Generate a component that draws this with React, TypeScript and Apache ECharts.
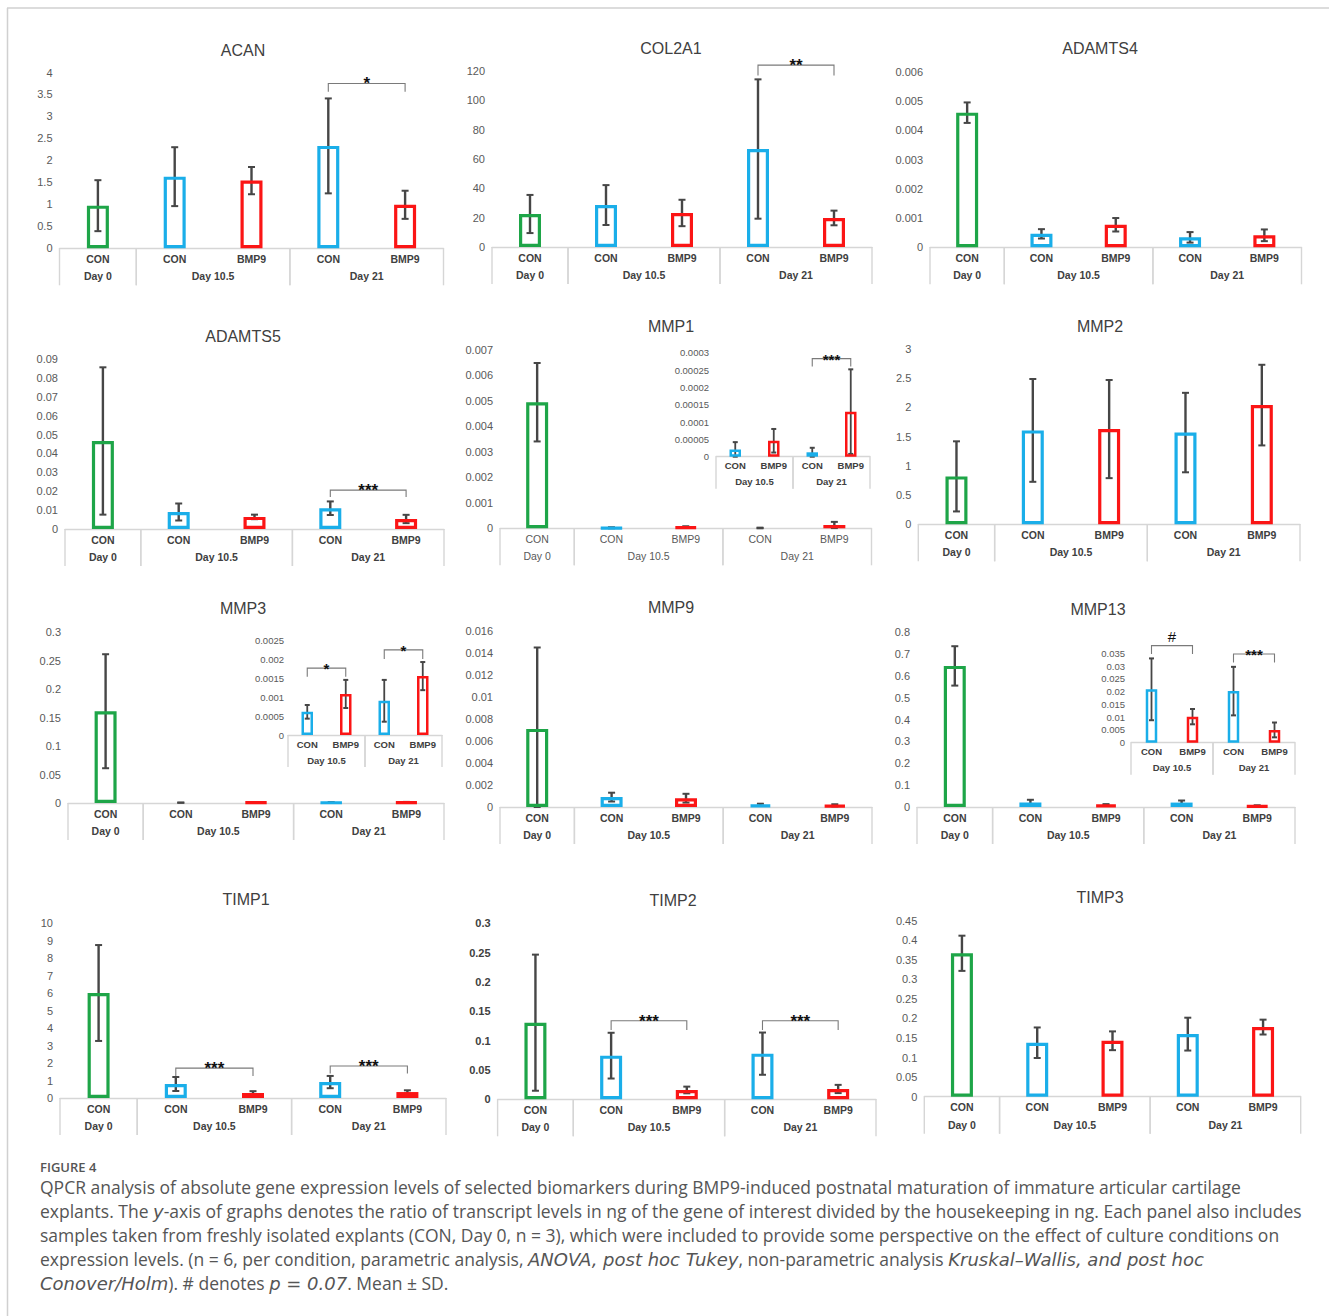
import React, { useEffect, useRef } from 'react';
import * as echarts from 'echarts';

const FONT = '"Liberation Sans", Arial, Helvetica, sans-serif';
const CAPTION_FONT = '"Open Sans", Lato, sans-serif';
const CAPTION_ITALIC_FONT = '"DejaVu Sans", "Open Sans", sans-serif';
const GREEN = '#1ea548';
const BLUE = '#1aaee9';
const RED = '#fb1515';

// ---- categories ----
const mainCategories = ['CON', 'CON', 'BMP9', 'CON', 'BMP9'];
const insetCategories = ['CON', 'BMP9', 'CON', 'BMP9'];
const mainGroups = ['Day 0', 'Day 10.5', 'Day 21'];
const insetGroups = ['Day 10.5', 'Day 21'];
const mainGroupSpans = [[0, 0], [1, 2], [3, 4]];
const insetGroupSpans = [[0, 1], [2, 3]];
const mainColors = [GREEN, BLUE, RED, BLUE, RED];
const insetColors = [BLUE, RED, BLUE, RED];

// ---- values (mean, SD), y-axis [max, interval], significance [from, to, bracketTop, legEnd, label] ----
const acanMean = [0.97, 1.63, 1.54, 2.33, 0.99];
const acanSD = [0.58, 0.67, 0.31, 1.08, 0.32];
const acanAxis = [4, 0.5];
const acanSig = [[3, 4, 3.75, 3.56, '*']];

const col2a1Mean = [22.5, 28.6, 23.2, 66.8, 19.8];
const col2a1SD = [13, 13.6, 9, 47.5, 5];
const col2a1Axis = [120, 20];
const col2a1Sig = [[3, 4, 124, 117, '**']];

const adamts4Mean = [0.0046, 0.00046, 0.00077, 0.00034, 0.00041];
const adamts4SD = [0.00035, 0.00016, 0.00023, 0.00018, 0.0002];
const adamts4Axis = [0.006, 0.001];
const adamts4Sig = [];

const adamts5Mean = [0.0466, 0.009, 0.0064, 0.011, 0.0053];
const adamts5SD = [0.039, 0.0045, 0.0012, 0.0036, 0.0022];
const adamts5Axis = [0.09, 0.01];
const adamts5Sig = [[3, 4, 0.0206, 0.017, '***']];

const mmp1Mean = [0.00495, 0.000021, 0.000046, 0.0000127, 0.00013];
const mmp1SD = [0.00154, 0.000021, 0.000034, 0.000013, 0.000122];
const mmp1Axis = [0.007, 0.001];
const mmp1Sig = [];
const mmp1InsetAxis = [0.0003, 0.00005];
const mmp1InsetSig = [[2, 3, 0.000283, 0.00026, '***']];

const mmp2Mean = [0.82, 1.607, 1.63, 1.57, 2.04];
const mmp2SD = [0.6, 0.88, 0.84, 0.68, 0.69];
const mmp2Axis = [3, 0.5];
const mmp2Sig = [];

const mmp3Mean = [0.161, 0.00061, 0.00108, 0.0009, 0.00155];
const mmp3SD = [0.1, 0.00018, 0.00037, 0.00055, 0.00037];
const mmp3Axis = [0.3, 0.05];
const mmp3Sig = [];
const mmp3InsetAxis = [0.0025, 0.0005];
const mmp3InsetSig = [[0, 1, 0.00176, 0.00153, '*'], [2, 3, 0.00224, 0.002, '*']];

const mmp9Mean = [0.0071, 0.0009, 0.0008, 0.0002, 0.00015];
const mmp9SD = [0.0074, 0.0004, 0.0004, 0.0001, 0.0001];
const mmp9Axis = [0.016, 0.002];
const mmp9Sig = [];

const mmp13Mean = [0.645, 0.0209, 0.0102, 0.0202, 0.005];
const mmp13SD = [0.09, 0.0121, 0.003, 0.0095, 0.0029];
const mmp13Axis = [0.8, 0.1];
const mmp13Sig = [];
const mmp13InsetAxis = [0.035, 0.005];
const mmp13InsetSig = [[0, 1, 0.038, 0.0347, '#'], [2, 3, 0.0347, 0.0314, '***']];

const timp1Mean = [6.0, 0.8, 0.29, 0.91, 0.34];
const timp1SD = [2.74, 0.4, 0.1, 0.35, 0.1];
const timp1Axis = [10, 1];
const timp1Sig = [[1, 2, 1.71, 1.26, '***'], [3, 4, 1.83, 1.4, '***']];

const timp2Mean = [0.1306, 0.0744, 0.0159, 0.0778, 0.0176];
const timp2SD = [0.116, 0.039, 0.0057, 0.036, 0.007];
const timp2Axis = [0.3, 0.05];
const timp2Sig = [[1, 2, 0.134, 0.118, '***'], [3, 4, 0.134, 0.118, '***']];

const timp3Mean = [0.3667, 0.138, 0.143, 0.16, 0.178];
const timp3SD = [0.045, 0.039, 0.024, 0.042, 0.019];
const timp3Axis = [0.45, 0.05];
const timp3Sig = [];

const captionTitle = 'FIGURE 4';
const captionLines = [
  'QPCR analysis of absolute gene expression levels of selected biomarkers during BMP9-induced postnatal maturation of immature articular cartilage',
  'explants. The {i|y}-axis of graphs denotes the ratio of transcript levels in ng of the gene of interest divided by the housekeeping in ng. Each panel also includes',
  'samples taken from freshly isolated explants (CON, Day 0, n = 3), which were included to provide some perspective on the effect of culture conditions on',
  'expression levels. (n = 6, per condition, parametric analysis, {i|ANOVA, post hoc Tukey}, non-parametric analysis {i|Kruskal\u2013Wallis, and post hoc}',
  '{i|Conover/Holm}). # denotes {i|p = 0.07}. Mean \u00b1 SD.',
];

// ---- layout: box = [left, right, topY, zeroY], title = [x, y] ----
const panels: any[] = [
  { name: 'ACAN', mean: acanMean, sd: acanSD, axis: acanAxis, sig: acanSig, box: [59.5, 443.5, 72.5, 248.3], title: [243, 50] },
  { name: 'COL2A1', mean: col2a1Mean, sd: col2a1SD, axis: col2a1Axis, sig: col2a1Sig, box: [492, 872, 71, 247], title: [671, 48] },
  { name: 'ADAMTS4', mean: adamts4Mean, sd: adamts4SD, axis: adamts4Axis, sig: adamts4Sig, box: [930, 1301.5, 71.7, 247.3], title: [1100, 48] },
  { name: 'ADAMTS5', mean: adamts5Mean, sd: adamts5SD, axis: adamts5Axis, sig: adamts5Sig, box: [65, 444, 359, 529], title: [243, 336] },
  { name: 'MMP1', mean: mmp1Mean, sd: mmp1SD, axis: mmp1Axis, sig: mmp1Sig, box: [500, 871.5, 350, 528.3], title: [671, 326], plain: true },
  { name: 'MMP2', mean: mmp2Mean, sd: mmp2SD, axis: mmp2Axis, sig: mmp2Sig, box: [918.3, 1300, 349, 524.3], title: [1100, 326] },
  { name: 'MMP3', mean: mmp3Mean, sd: mmp3SD, axis: mmp3Axis, sig: mmp3Sig, box: [68, 444, 632, 803], title: [243, 608] },
  { name: 'MMP9', mean: mmp9Mean, sd: mmp9SD, axis: mmp9Axis, sig: mmp9Sig, box: [500, 872, 631, 807], title: [671, 607] },
  { name: 'MMP13', mean: mmp13Mean, sd: mmp13SD, axis: mmp13Axis, sig: mmp13Sig, box: [917, 1295, 632, 807], title: [1098, 609] },
  { name: 'TIMP1', mean: timp1Mean, sd: timp1SD, axis: timp1Axis, sig: timp1Sig, box: [60, 446, 923, 1098], title: [246, 899] },
  { name: 'TIMP2', mean: timp2Mean, sd: timp2SD, axis: timp2Axis, sig: timp2Sig, box: [497.6, 876, 923.3, 1099.3], title: [673, 900], boldY: true },
  { name: 'TIMP3', mean: timp3Mean, sd: timp3SD, axis: timp3Axis, sig: timp3Sig, box: [924.3, 1300.7, 920.7, 1096.7], title: [1100, 897] },
];

const insets: any[] = [
  { mean: mmp1Mean.slice(1), sd: mmp1SD.slice(1), axis: mmp1InsetAxis, sig: mmp1InsetSig, box: [716, 870, 352.7, 456.7], yMargin: 7 },
  { mean: mmp3Mean.slice(1), sd: mmp3SD.slice(1), axis: mmp3InsetAxis, sig: mmp3InsetSig, box: [288, 442, 640, 735], yMargin: 4 },
  { mean: mmp13Mean.slice(1), sd: mmp13SD.slice(1), axis: mmp13InsetAxis, sig: mmp13InsetSig, box: [1131, 1295, 653.3, 742.7], yMargin: 6 },
];

const fmt = (v: number) => String(parseFloat(Number(v).toPrecision(10)));

function buildOption() {
  const grid: any[] = [];
  const xAxis: any[] = [];
  const yAxis: any[] = [];
  const series: any[] = [];
  const graphic: any[] = [];

  const all = [
    ...panels.map((p) => ({ ...p, inset: false })),
    ...insets.map((p) => ({ ...p, inset: true })),
  ];

  all.forEach((p, k) => {
    const [l, r, t, b] = p.box;
    const inset = p.inset;
    const cats = inset ? insetCategories : mainCategories;
    const colors = inset ? insetColors : mainColors;
    const spans = inset ? insetGroupSpans : mainGroupSpans;
    const groups = inset ? insetGroups : mainGroups;
    const catSize = inset ? 9.5 : 10.5;
    const weight = p.plain ? 'normal' : 'bold';
    const labelColor = p.plain ? '#595959' : '#404040';
    const plotH = b - t;
    const [max, step] = p.axis;

    grid.push({ left: l, top: t, width: r - l, height: plotH, containLabel: false, outerBoundsMode: 'none' });
    xAxis.push({
      type: 'category',
      gridIndex: k,
      data: cats,
      axisLine: { show: true, lineStyle: { color: '#d6d6d6', width: 1.4 } },
      axisTick: { show: false },
      splitLine: { show: false },
      axisLabel: {
        interval: 0,
        margin: inset ? 4 : 5,
        fontSize: catSize,
        fontWeight: weight,
        color: labelColor,
        fontFamily: FONT,
      },
    });
    yAxis.push({
      type: 'value',
      gridIndex: k,
      min: 0,
      max,
      interval: step,
      axisLine: { show: false },
      axisTick: { show: false },
      splitLine: { show: false },
      axisLabel: {
        margin: inset ? p.yMargin : 7,
        fontSize: inset ? 9.5 : 11,
        fontWeight: p.boldY ? 'bold' : 'normal',
        color: p.boldY ? '#404040' : '#595959',
        fontFamily: FONT,
        formatter: fmt,
      },
    });

    // bars
    series.push({
      type: 'bar',
      xAxisIndex: k,
      yAxisIndex: k,
      silent: true,
      barWidth: inset ? 11.5 : 22,
      data: p.mean.map((v: number, i: number) => ({
        value: v,
        itemStyle: {
          color: 'rgba(255,255,255,0)',
          borderColor: colors[i],
          borderWidth: (v / max) * plotH < 0.45 ? 0 : inset ? 2.5 : 3.2,
        },
      })),
    });

    // error bars
    const lw = inset ? 1.8 : 2.4;
    const cap = inset ? 5 : 7;
    series.push({
      type: 'custom',
      xAxisIndex: k,
      yAxisIndex: k,
      silent: true,
      clip: false,
      data: p.mean.map((v: number, i: number) => [i, v]),
      encode: { x: 0, y: 1 },
      renderItem: (params: any, api: any) => {
        const i = params.dataIndex;
        const m = p.mean[i];
        const s = p.sd[i];
        const top = api.coord([i, m + s]);
        const bot = api.coord([i, Math.max(m - s, 0)]);
        const x = top[0];
        const st = { stroke: '#464646', lineWidth: lw };
        return {
          type: 'group',
          children: [
            { type: 'line', shape: { x1: x, y1: top[1], x2: x, y2: bot[1] }, style: st },
            { type: 'line', shape: { x1: x - cap / 2, y1: top[1], x2: x + cap / 2, y2: top[1] }, style: { ...st, lineWidth: 2 } },
            { type: 'line', shape: { x1: x - cap / 2, y1: bot[1], x2: x + cap / 2, y2: bot[1] }, style: { ...st, lineWidth: 2 } },
          ],
        };
      },
    });

    // significance brackets
    if (p.sig.length) {
      series.push({
        type: 'custom',
        xAxisIndex: k,
        yAxisIndex: k,
        silent: true,
        clip: false,
        data: p.sig.map((s: any[]) => [s[0], s[2]]),
        encode: { x: 0, y: 1 },
        renderItem: (params: any, api: any) => {
          const s = p.sig[params.dataIndex];
          const a = api.coord([s[0], s[2]]);
          const c = api.coord([s[1], s[2]]);
          const leg = api.coord([s[0], s[3]]);
          const isHash = s[4] === '#';
          return {
            type: 'group',
            children: [
              {
                type: 'polyline',
                shape: { points: [[a[0], leg[1]], [a[0], a[1]], [c[0], c[1]], [c[0], leg[1]]] },
                style: { stroke: '#7a7a7a', lineWidth: 1.1, fill: 'none' },
              },
              {
                type: 'text',
                style: {
                  text: s[4],
                  x: (a[0] + c[0]) / 2,
                  y: isHash ? a[1] - 9 : a[1] + 0.5,
                  align: 'center',
                  verticalAlign: 'middle',
                  textAlign: 'center',
                  textVerticalAlign: 'middle',
                  fontSize: isHash ? 15 : inset ? 15 : 17,
                  fontWeight: isHash ? 'normal' : 'bold',
                  fontFamily: FONT,
                  fill: '#111',
                },
              },
            ],
          };
        },
      });
    }

    // group labels and separators of the two-level category axis
    const labOff = inset ? 25 : 28;
    const sepLen = inset ? 32 : 37;
    series.push({
      type: 'custom',
      xAxisIndex: k,
      yAxisIndex: k,
      silent: true,
      clip: false,
      data: spans.map((s: number[]) => [s[0], 0]),
      encode: { x: 0, y: 1 },
      renderItem: (params: any, api: any) => {
        const sp = spans[params.dataIndex];
        const p0 = api.coord([sp[0], 0]);
        const p1 = api.coord([sp[1], 0]);
        const bw = api.size([1, 0])[0];
        const x0 = p0[0] - bw / 2;
        const x1 = p1[0] + bw / 2;
        const y0 = p0[1];
        const ls = { stroke: '#d6d6d6', lineWidth: 1.4 };
        return {
          type: 'group',
          children: [
            { type: 'line', shape: { x1: x0, y1: y0, x2: x0, y2: y0 + sepLen }, style: ls },
            { type: 'line', shape: { x1: x1, y1: y0, x2: x1, y2: y0 + sepLen }, style: ls },
            {
              type: 'text',
              style: {
                text: groups[params.dataIndex],
                x: (x0 + x1) / 2,
                y: y0 + labOff,
                align: 'center',
                verticalAlign: 'middle',
                textAlign: 'center',
                textVerticalAlign: 'middle',
                fontSize: catSize,
                fontWeight: weight,
                fontFamily: FONT,
                fill: labelColor,
              },
            },
          ],
        };
      },
    });

    if (!inset) {
      graphic.push({
        type: 'text',
        x: p.title[0],
        y: p.title[1],
        silent: true,
        style: {
          text: p.name,
          align: 'center',
          verticalAlign: 'middle',
          textAlign: 'center',
          textVerticalAlign: 'middle',
          fontSize: 16,
          fontFamily: FONT,
          fill: '#404040',
        },
      });
    }
  });

  // figure frame
  graphic.push({ type: 'line', silent: true, shape: { x1: 7, y1: 8, x2: 1329, y2: 8 }, style: { stroke: '#d0d0d0', lineWidth: 1.5 } });
  graphic.push({ type: 'line', silent: true, shape: { x1: 7.5, y1: 8, x2: 7.5, y2: 1316 }, style: { stroke: '#d0d0d0', lineWidth: 1.5 } });

  // caption
  graphic.push({
    type: 'text',
    x: 40,
    y: 1167,
    silent: true,
    style: {
      text: captionTitle,
      verticalAlign: 'middle',
      textVerticalAlign: 'middle',
      fontSize: 13,
      fontWeight: 600,
      fontFamily: CAPTION_FONT,
      fill: '#555555',
    },
  });
  const capSize = 17.5;
  captionLines.forEach((line, i) => {
    graphic.push({
      type: 'text',
      x: 40,
      y: 1187 + i * 24,
      silent: true,
      style: {
        text: line,
        verticalAlign: 'middle',
        textVerticalAlign: 'middle',
        fontSize: capSize,
        fontFamily: CAPTION_FONT,
        fill: '#555555',
        rich: {
          i: { fontStyle: 'italic', fontSize: 18, fontFamily: CAPTION_ITALIC_FONT, fill: '#555555' },
        },
      },
    });
  });

  return {
    animation: false,
    backgroundColor: '#ffffff',
    grid,
    xAxis,
    yAxis,
    series,
    graphic,
  };
}

export default function App() {
  const ref = useRef<HTMLDivElement>(null);
  useEffect(() => {
    const chart = echarts.init(ref.current as HTMLDivElement, null, { renderer: 'svg', width: 1329, height: 1316 });
    chart.setOption(buildOption() as any);
    return () => chart.dispose();
  }, []);
  return (
    <div
      ref={ref}
      style={{ position: 'absolute', left: 0, top: 0, width: 1329, height: 1316, background: '#fff' }}
    />
  );
}
